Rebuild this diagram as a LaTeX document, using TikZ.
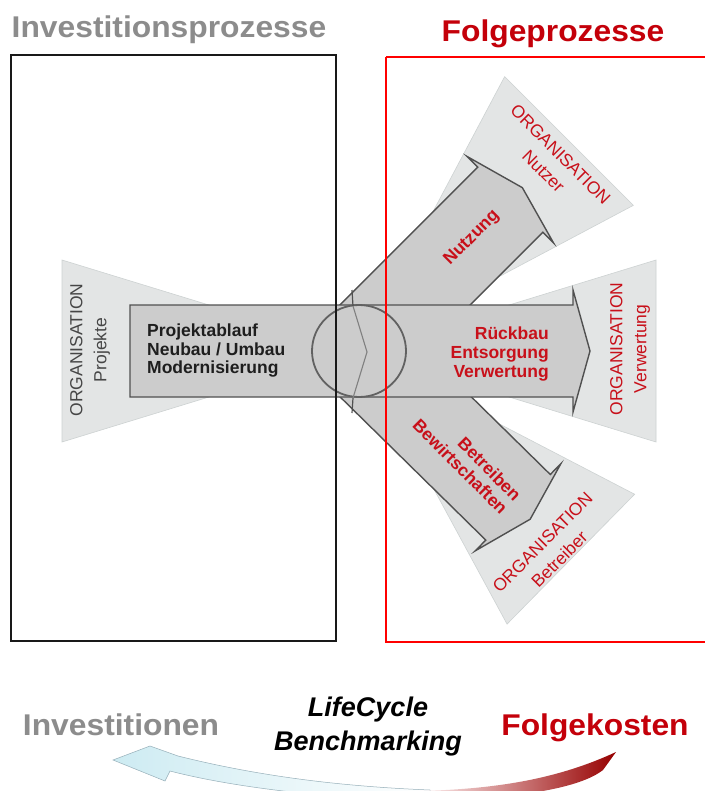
\documentclass[tikz,border=0pt]{standalone}
\usepackage{fontspec}
\setmainfont{Liberation Sans}
\newfontfamily\wfont{Liberation Sans}[FakeStretch=1.06]
\usetikzlibrary{calc}
\definecolor{fanc}{RGB}{227,229,229}
\definecolor{fanedge}{RGB}{205,210,210}
\definecolor{arrc}{RGB}{204,204,204}
\definecolor{arrline}{RGB}{80,80,80}
\definecolor{dred}{RGB}{200,16,26}
\definecolor{tred}{RGB}{196,0,10}
\definecolor{tgrey}{RGB}{140,140,140}
\definecolor{dgrey}{RGB}{70,70,70}
\definecolor{boxtxt}{RGB}{30,30,30}
\definecolor{swred}{RGB}{150,0,0}
\definecolor{swblue}{RGB}{205,235,242}
\definecolor{swedge}{RGB}{150,175,185}
\begin{document}
\begin{tikzpicture}[x=1pt,y=-1pt,
  fan/.style={fill=fanc, draw=fanedge, line width=0.6pt},
  arr/.style={fill=arrc, draw=arrline, line width=1.4pt, line join=miter},
  orgdark/.style={font=\fontsize{17.5}{24}\selectfont, align=center, inner sep=0pt, text=dgrey},
  orgred/.style={font=\fontsize{17.5}{24}\selectfont, align=center, inner sep=0pt, text=dred},
  redbold/.style={font=\bfseries\fontsize{17.5}{19}\selectfont, inner sep=0pt, text=dred},
  darkbold/.style={font=\bfseries\fontsize{17.5}{18.5}\selectfont, inner sep=0pt, text=boxtxt},
  bigtitle/.style={font=\wfont\bfseries\fontsize{30}{36}\selectfont, inner sep=0pt, anchor=base},
  lcb/.style={font=\bfseries\itshape\fontsize{27}{33}\selectfont, inner sep=0pt, anchor=base, text=black}
]
\useasboundingbox (0,0) rectangle (704,791);
\fill[white] (0,0) rectangle (704,791);

\coordinate (C) at (359,351);

% fan triangles
\foreach \a in {180,0,45,-44.5}{
  \begin{scope}[shift={(C)}, rotate=\a]
    \draw[fan] (0,0) -- (297,-91) -- (297,91) -- cycle;
  \end{scope}
}

% Nutzung arrow
\begin{scope}[shift={(C)}, rotate=45]
  \draw[arr] (0,-46) -- (214,-46) -- (214,-61) -- (231,0) -- (214,61) -- (214,46) -- (0,46) -- cycle;
\end{scope}
% Betreiben arrow
\begin{scope}[shift={(C)}, rotate=-44.5]
  \draw[arr] (0,-46) -- (223,-46) -- (223,-61) -- (240,0) -- (223,61) -- (223,46) -- (0,46) -- cycle;
\end{scope}
% horizontal box + Rueckbau arrow
\begin{scope}[shift={(C)}]
  \draw[arr] (-229,-46) -- (214,-46) -- (214,-61) -- (231,0) -- (214,61) -- (214,46) -- (-229,46) -- cycle;
\end{scope}

% circle and inner chevron
\draw[fill=arrc, draw=arrline!90, line width=1.8pt] (C) ellipse (47 and 46);
\draw[arrline, line width=1.2pt] (352,290) -- (353,306);
\draw[arrline, line width=1.2pt] (353,398) -- (352,413);
\draw[gray, line width=1.1pt] (353,306) -- (367,352) -- (353,398);

% texts
\node[orgdark, rotate=90] (orgP) at (90,350) {ORGANISATION\\Projekte};
\node[darkbold, anchor=west, align=left] (proj) at (147,351) {Projektablauf\\Neubau / Umbau\\Modernisierung};
\node[redbold, anchor=east, align=right] (rb) at (549,354) {Rückbau\\Entsorgung\\Verwertung};
\node[orgred, rotate=90] (orgV) at (630,349) {ORGANISATION\\Verwertung};
\node[redbold, rotate=45] (nutz) at (472,238) {Nutzung};
\node[orgred, rotate=-45] (orgN) at (552,163) {ORGANISATION\\Nutzer};
\node[redbold, rotate=-45, align=right] (betr) at (467,460) {Betreiben\\Bewirtschaften};
\node[orgred, rotate=45] (orgB) at (551,551) {ORGANISATION\\Betreiber};

% frames
\draw[line width=2pt, black!90] (11,55) rectangle (336,641);
\draw[line width=2pt, red] (386,57) -- (712,57) (386,57) -- (386,642) -- (712,642);

% titles
\node[bigtitle, text=tgrey] (t1) at (169,38) {Investitionsprozesse};
\node[bigtitle, text=tred] (t2) at (553,42) {Folgeprozesse};

% bottom
\node[bigtitle, text=tgrey] (inv) at (121,735) {Investitionen};
\node[bigtitle, text=tred] (fk) at (595,735) {Folgekosten};
\node[lcb] (lc) at (368,716) {LifeCycle};
\node[lcb] (bm) at (368,750) {Benchmarking};

% swoosh
\shade[left color=swblue, right color=white, draw=swedge, line width=0.5pt]
  (113,760) -- (150,746) -- (178,756)
  .. controls (250,774) and (330,786) .. (430,790)
  -- (430,800) -- (400,800)
  .. controls (300,796) and (220,784) .. (170,771)
  -- (165,781) -- cycle;
\shade[left color=red!5, right color=swred]
  (616,752) .. controls (560,778) and (500,789) .. (420,791)
  -- (420,800) -- (440,800)
  .. controls (520,798) and (580,788) .. (603,770) -- cycle;
\end{tikzpicture}
\end{document}
